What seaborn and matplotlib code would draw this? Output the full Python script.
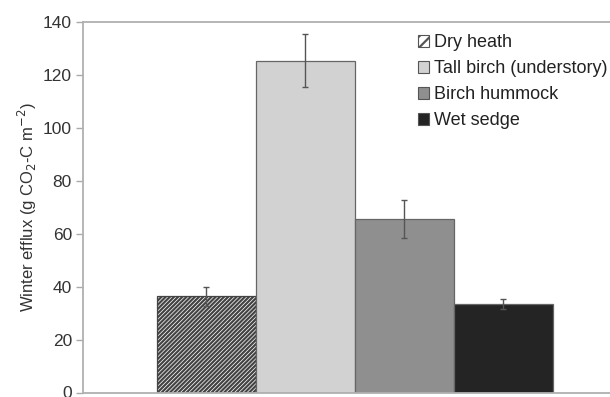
import matplotlib
matplotlib.use("Agg")
import matplotlib.pyplot as plt
import seaborn as sns
import pandas as pd
from matplotlib.patches import Patch

categories = ["Dry heath", "Tall birch (understory)", "Birch hummock", "Wet sedge"]
values = [36.3, 125.3, 65.5, 33.4]
errors = [3.5, 10.0, 7.2, 1.9]
face_colors = ["#ffffff", "#d2d2d2", "#8f8f8f", "#242424"]
hatches = ["////////", "", "", ""]

sns.set_theme(style="white")
plt.rcParams['font.family'] = ['Liberation Sans', 'DejaVu Sans']
plt.rcParams['hatch.linewidth'] = 1.6
plt.rcParams['hatch.color'] = '#2a2a2a'

df = pd.DataFrame({"cat": categories, "val": values})

fig = plt.figure(figsize=(6.10, 3.97), dpi=100)
ax = fig.add_axes([83/610, 1 - 392.5/397, (610-83)/610, (392.5-22)/397])

sns.barplot(data=df, x="cat", y="val", hue="cat", palette=face_colors,
            width=1.0, ax=ax, legend=False, errorbar=None, saturation=1)

for i, p in enumerate(ax.patches):
    p.set_hatch(hatches[i])
    p.set_edgecolor("#666666" if i != 0 else "#444444")
    p.set_linewidth(0.9)

ax.errorbar(range(len(categories)), values, yerr=errors, fmt="none",
            ecolor="#555555", elinewidth=1.0, capsize=2.5, capthick=1.0)

ax.set_xlim(-1.247, 4.076)
ax.set_ylim(0, 140)
ax.set_yticks(range(0, 141, 20))
ax.set_xticks([])
ax.set_xlabel("")
ax.set_ylabel("Winter efflux (g CO$_2$-C m$^{-2}$)", fontsize=12, color="#333333", labelpad=3)
ax.tick_params(axis="y", which="both", left=True, length=5, width=1, color="#aaaaaa",
               labelsize=12.5, labelcolor="#333333", pad=3)

for s in ["left", "bottom", "top"]:
    ax.spines[s].set_visible(True)
    ax.spines[s].set_color("#b0b0b0")
    ax.spines[s].set_linewidth(1.3)
ax.spines["right"].set_visible(False)

handles = [Patch(facecolor=face_colors[i], edgecolor="#555555", hatch=hatches[i][:3],
                 linewidth=0.8) for i in range(len(categories))]
leg = ax.legend(handles, categories, loc="upper left", bbox_to_anchor=((418-83)/527, 0.967),
                bbox_transform=ax.transAxes,
                frameon=False, fontsize=13, handlelength=0.6, handleheight=0.6,
                handletextpad=0.3, labelspacing=0.5, borderaxespad=0, borderpad=0)
for t in leg.get_texts():
    t.set_color("#222222")

fig.savefig("out.png", dpi=100)
